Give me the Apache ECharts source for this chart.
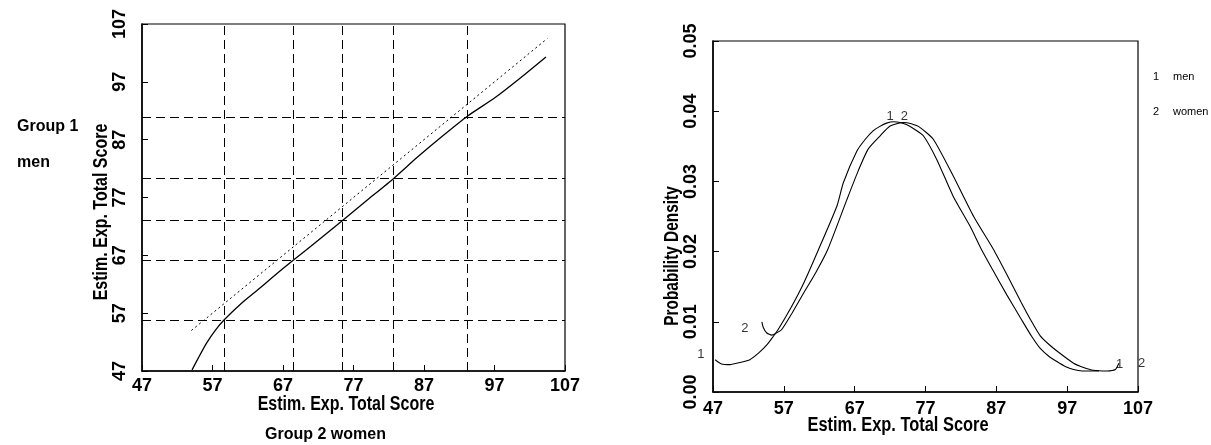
<!DOCTYPE html>
<html>
<head>
<meta charset="utf-8">
<script src="https://cdn.jsdelivr.net/npm/echarts@6/dist/echarts.min.js"></script>
<style>
  html, body { margin: 0; padding: 0; background: #fff; }
  #chart { width: 1211px; height: 445px; }
</style>
</head>
<body>
<div id="chart"></div>
<script>
// Q-Q plot: men (y) against women (x)
const qqX = [54.1, 55.1, 56.2, 57.5, 58.7, 61.0, 63.3, 65.6, 68.4, 72.0, 75.4, 79.0, 82.7, 86.0, 89.5, 93.2, 97.0, 100.8, 104.3];
const qqY = [47.2, 49.5, 51.9, 54.2, 55.9, 58.6, 60.9, 63.3, 66.1, 69.6, 73.0, 76.6, 80.3, 83.9, 87.5, 91.1, 94.2, 97.8, 101.3];
const diagonal = [54, 104.5];
// quantile guide lines
const guideX = [58.6, 68.4, 75.4, 82.7, 93.2];
const guideY = [55.8, 66.1, 73.0, 80.3, 90.8];

// density curves
const menX = [47.3, 48.2, 49.4, 50.8, 52.2, 53.5, 54.6, 55.5, 56.2, 58.0, 59.8, 61.9, 64.5, 65.4, 67.3, 68.5, 69.6, 70.5, 71.5, 72.5, 73.4, 74.3, 75.5, 76.7, 78.6, 80.9, 83.3, 84.9, 86.6, 88.5, 90.5, 92.0, 93.2, 94.4, 95.6, 96.8, 97.9, 99.1, 100.3, 101.5];
const menY = [0.0046, 0.0040, 0.0039, 0.0042, 0.0046, 0.0056, 0.0067, 0.0079, 0.0089, 0.0120, 0.0155, 0.0203, 0.0265, 0.0298, 0.0343, 0.0360, 0.0372, 0.0378, 0.0383, 0.0385, 0.0384, 0.0381, 0.0374, 0.0365, 0.0331, 0.0279, 0.0236, 0.0203, 0.0172, 0.0138, 0.0104, 0.0079, 0.0062, 0.0051, 0.0043, 0.0036, 0.0032, 0.0030, 0.0030, 0.0030];
const womenX = [53.9, 54.1, 54.6, 55.3, 55.8, 56.7, 58.2, 59.8, 61.5, 63.2, 65.9, 67.5, 68.9, 70.6, 72.0, 73.9, 75.0, 76.2, 78.1, 80.9, 83.8, 86.6, 88.5, 90.5, 92.0, 93.2, 94.4, 95.6, 97.9, 99.3, 100.7, 102.6, 103.8, 104.3];
const womenY = [0.0100, 0.0092, 0.0084, 0.0081, 0.0083, 0.0089, 0.0113, 0.0141, 0.0170, 0.0203, 0.0274, 0.0315, 0.0346, 0.0365, 0.0379, 0.0384, 0.0382, 0.0377, 0.0360, 0.0308, 0.0250, 0.0203, 0.0167, 0.0128, 0.0100, 0.0080, 0.0068, 0.0058, 0.0041, 0.0035, 0.0031, 0.0030, 0.0032, 0.0041];
// curve number labels
const labelX = [45.3, 51.5, 72.0, 74.0, 104.4, 107.5];
const labelY = [0.0053, 0.0091, 0.0393, 0.0393, 0.0039, 0.0040];
const labelText = ['1', '2', '1', '2', '1', '2'];

const zip = (a, b) => a.map((v, i) => [v, b[i]]);

const FONT = "'Liberation Sans', Arial, sans-serif";
const bold = { fontFamily: FONT, fontWeight: 'bold', color: '#000' };
const small = { fontFamily: FONT, fontSize: 11, fontWeight: 'normal', color: '#000' };

// condensed bold axis titles
function axisTitle(text, x, y, rot, sx) {
  return {
    type: 'text', x, y, rotation: rot, scaleX: sx,
    style: { text, fontFamily: FONT, fontWeight: 'bold', fontSize: 20, fill: '#000', align: 'center', verticalAlign: 'middle' }
  };
}

function scoreAxis(gridIndex, margin) {
  return {
    type: 'value', gridIndex, min: 47, max: 107, interval: 10,
    axisLine: { show: true, lineStyle: { color: '#000', width: 1.5 } },
    axisTick: { show: true, inside: true, length: 6, lineStyle: { color: '#000' } },
    axisLabel: Object.assign({ fontSize: 18, margin, showMinLabel: true, showMaxLabel: true }, bold),
    splitLine: { show: false }
  };
}

const chart = echarts.init(document.getElementById('chart'));
chart.setOption({
  animation: false,
  backgroundColor: '#fff',
  grid: [
    { left: 142, top: 24, width: 423, height: 347, show: true, borderColor: '#000', borderWidth: 1.2 },
    { left: 713, top: 41, width: 425, height: 351, show: true, borderColor: '#000', borderWidth: 1.2 }
  ],
  title: [
    { text: 'Group 1', left: 12, top: 114, textStyle: Object.assign({ fontSize: 16 }, bold) },
    { text: 'men', left: 12, top: 150, textStyle: Object.assign({ fontSize: 16 }, bold) },
    { text: 'Group 2 women', left: 260, top: 422, textStyle: Object.assign({ fontSize: 16 }, bold) },
    { text: '1', left: 1148, top: 66, textStyle: small },
    { text: 'men', left: 1168, top: 66, textStyle: small },
    { text: '2', left: 1148, top: 101, textStyle: small },
    { text: 'women', left: 1168, top: 101, textStyle: small }
  ],
  graphic: [
    axisTitle('Estim. Exp. Total Score', 346, 404, 0, 0.8),
    axisTitle('Estim. Exp. Total Score', 898, 425, 0, 0.82),
    axisTitle('Estim. Exp. Total Score', 101, 212, Math.PI / 2, 0.8),
    axisTitle('Probability Density', 672, 256, Math.PI / 2, 0.77)
  ],
  xAxis: [scoreAxis(0, 6), scoreAxis(1, 8)],
  yAxis: [
    {
      type: 'value', gridIndex: 0, min: 47, max: 107, interval: 10,
      axisLine: { show: true, lineStyle: { color: '#000', width: 1.5 } },
      axisTick: { show: true, inside: true, length: 6, lineStyle: { color: '#000' } },
      axisLabel: Object.assign({ fontSize: 18, margin: 13, rotate: 90, showMinLabel: true, showMaxLabel: true }, bold),
      splitLine: { show: false }
    },
    {
      type: 'value', gridIndex: 1, min: 0, max: 0.05, interval: 0.01,
      axisLine: { show: true, lineStyle: { color: '#000', width: 1.5 } },
      axisTick: { show: true, inside: true, length: 6, lineStyle: { color: '#000' } },
      axisLabel: Object.assign({ fontSize: 18, margin: 13, rotate: 90, formatter: v => v.toFixed(2) }, bold),
      splitLine: { show: false }
    }
  ],
  series: [
    {
      type: 'line', xAxisIndex: 0, yAxisIndex: 0, data: zip(qqX, qqY),
      smooth: 0.2, showSymbol: false,
      lineStyle: { color: '#000', width: 1.3 },
      markLine: {
        silent: true, symbol: 'none', label: { show: false },
        lineStyle: { color: '#000', width: 1, type: [9, 5] },
        data: guideX.map(v => ({ xAxis: v })).concat(guideY.map(v => ({ yAxis: v })))
      }
    },
    {
      type: 'line', xAxisIndex: 0, yAxisIndex: 0, data: zip(diagonal, diagonal),
      showSymbol: false,
      lineStyle: { color: '#000', width: 1, type: [2, 3] }
    },
    {
      type: 'line', xAxisIndex: 1, yAxisIndex: 1, data: zip(menX, menY),
      smooth: 0.2, showSymbol: false,
      lineStyle: { color: '#000', width: 1.1 }
    },
    {
      type: 'line', xAxisIndex: 1, yAxisIndex: 1, data: zip(womenX, womenY),
      smooth: 0.2, showSymbol: false,
      lineStyle: { color: '#000', width: 1.1 }
    },
    {
      type: 'scatter', xAxisIndex: 1, yAxisIndex: 1, clip: false, symbolSize: 0,
      data: labelX.map((x, i) => ({ value: [x, labelY[i]], name: labelText[i] })),
      label: {
        show: true, position: 'inside', formatter: p => p.name,
        fontFamily: FONT, fontSize: 13, color: '#000'
      }
    }
  ]
});
</script>
</body>
</html>
